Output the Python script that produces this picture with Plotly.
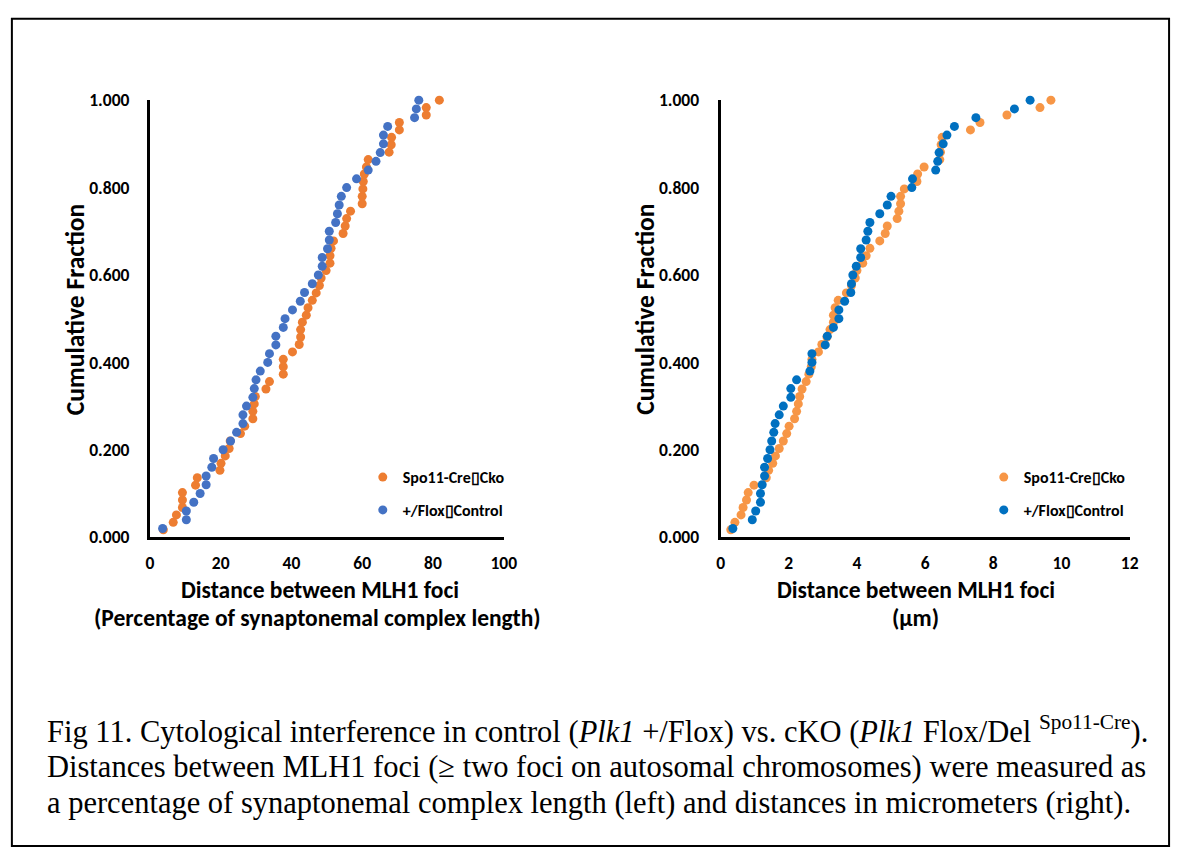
import plotly.graph_objects as go

# ---------------- data ----------------
# Left panel: distance as % of synaptonemal complex length
pct_cko = [3.8, 6.6, 7.5, 9.2, 9.2, 9.2, 12.9, 13.4, 19.8, 20.1, 21.3, 22.4, 22.7, 25.6, 26.8,
           29.1, 29.1, 29.5, 29.8, 32.8, 33.8, 37.7, 37.7, 37.7, 40.3, 42.2, 42.6, 42.6, 43.1,
           44.2, 44.7, 45.9, 47.0, 47.9, 48.4, 49.8, 50.9, 50.9, 51.2, 51.9, 54.6, 55.2, 55.6,
           56.7, 60.0, 60.0, 60.2, 60.3, 60.6, 61.2, 61.7, 67.6, 68.2, 68.3, 70.5, 70.5, 78.1,
           78.1, 81.8]
pct_ctrl = [3.6, 10.3, 10.3, 12.4, 14.2, 15.9, 15.9, 17.5, 18.0, 20.7, 22.8, 24.5, 26.3, 26.3,
            27.3, 29.1, 29.5, 30.0, 31.2, 33.3, 33.8, 35.6, 35.6, 37.7, 38.2, 40.3, 42.5, 43.7,
            45.9, 47.6, 48.7, 48.7, 50.2, 50.7, 50.7, 52.5, 53.0, 53.5, 54.1, 55.6, 58.4, 61.7,
            63.9, 65.1, 66.0, 66.0, 67.2, 74.8, 75.3, 76.0]

# Right panel: distance in micrometers
um_cko = [0.30, 0.42, 0.60, 0.66, 0.76, 0.81, 0.98, 1.34, 1.41, 1.53, 1.61, 1.72, 1.84, 1.94,
          2.01, 2.17, 2.23, 2.28, 2.32, 2.39, 2.51, 2.59, 2.66, 2.68, 2.87, 2.97, 3.12, 3.21,
          3.31, 3.31, 3.36, 3.45, 3.69, 3.84, 3.95, 4.00, 4.17, 4.27, 4.38, 4.67, 4.83, 4.89,
          5.18, 5.23, 5.28, 5.28, 5.39, 5.76, 5.78, 5.97, 6.43, 6.45, 6.47, 6.50, 7.33, 7.61,
          8.40, 9.37, 9.69]
um_ctrl = [0.36, 0.93, 1.03, 1.17, 1.17, 1.22, 1.29, 1.29, 1.38, 1.45, 1.50, 1.56, 1.60, 1.72,
           1.84, 2.06, 2.06, 2.23, 2.62, 2.68, 2.68, 3.07, 3.13, 3.31, 3.47, 3.47, 3.64, 3.82,
           3.84, 3.88, 3.98, 4.11, 4.11, 4.27, 4.32, 4.38, 4.67, 4.89, 5.00, 5.61, 5.63, 6.31,
           6.37, 6.41, 6.53, 6.64, 6.86, 7.49, 8.62, 9.08]

# Cumulative fractions (read from the y positions)
cum_cko = [0.017, 0.034, 0.051, 0.068, 0.085, 0.102, 0.119, 0.136, 0.153, 0.169, 0.186, 0.203,
           0.220, 0.237, 0.254, 0.271, 0.288, 0.305, 0.322, 0.339, 0.356, 0.373, 0.390, 0.407,
           0.424, 0.441, 0.458, 0.475, 0.492, 0.508, 0.525, 0.542, 0.559, 0.576, 0.593, 0.610,
           0.627, 0.644, 0.661, 0.678, 0.695, 0.712, 0.729, 0.746, 0.763, 0.780, 0.797, 0.814,
           0.831, 0.847, 0.864, 0.881, 0.898, 0.915, 0.932, 0.949, 0.966, 0.983, 1.000]
cum_ctrl = [0.02, 0.04, 0.06, 0.08, 0.10, 0.12, 0.14, 0.16, 0.18, 0.20, 0.22, 0.24, 0.26, 0.28,
            0.30, 0.32, 0.34, 0.36, 0.38, 0.40, 0.42, 0.44, 0.46, 0.48, 0.50, 0.52, 0.54, 0.56,
            0.58, 0.60, 0.62, 0.64, 0.66, 0.68, 0.70, 0.72, 0.74, 0.76, 0.78, 0.80, 0.82, 0.84,
            0.86, 0.88, 0.90, 0.92, 0.94, 0.96, 0.98, 1.00]

name_cko = "Spo11-Cre\u25afCko"
name_ctrl = "+/Flox\u25afControl"

# ---------------- figure ----------------
W, H = 1187, 861
SANS = "Carlito, Calibri, Lato, sans-serif"
SERIF = "Liberation Serif, Times New Roman, serif"

def px(x):
    return x / W

def py(y):
    return 1 - y / H

fig = go.Figure()
fig.add_trace(go.Scatter(x=pct_cko, y=cum_cko, mode="markers", name=name_cko,
                         marker=dict(color="#ED7D31", size=9, line=dict(width=0)),
                         xaxis="x", yaxis="y", cliponaxis=False,
                         legend="legend", legendgroup="a"))
fig.add_trace(go.Scatter(x=pct_ctrl, y=cum_ctrl, mode="markers", name=name_ctrl,
                         marker=dict(color="#4472C4", size=9, line=dict(width=0)),
                         xaxis="x", yaxis="y", cliponaxis=False,
                         legend="legend", legendgroup="b"))
fig.add_trace(go.Scatter(x=um_cko, y=cum_cko, mode="markers", name=name_cko,
                         marker=dict(color="#F79646", size=9, line=dict(width=0)),
                         xaxis="x2", yaxis="y2", cliponaxis=False,
                         legend="legend2", legendgroup="c"))
fig.add_trace(go.Scatter(x=um_ctrl, y=cum_ctrl, mode="markers", name=name_ctrl,
                         marker=dict(color="#0070C0", size=9, line=dict(width=0)),
                         xaxis="x2", yaxis="y2", cliponaxis=False,
                         legend="legend2", legendgroup="d"))

ydom = [py(540), py(91.5)]
tickfont = dict(family=SANS, size=17.5, color="black", weight="bold")
axis_common = dict(showgrid=False, zeroline=False, showline=True, linecolor="black",
                   linewidth=3, ticks="", tickfont=tickfont, fixedrange=True)
legfont = dict(family=SANS, size=16, color="black", weight="bold")

fig.update_layout(
    width=W, height=H,
    margin=dict(l=0, r=0, t=0, b=0),
    paper_bgcolor="white", plot_bgcolor="white",
    xaxis=dict(domain=[px(148), px(507)], range=[0, 100], dtick=20, anchor="y",
               ticklabelstandoff=8, **axis_common),
    yaxis=dict(domain=ydom, range=[0, 1], dtick=0.2, tickformat=".3f", anchor="x",
               ticklabelstandoff=14, **axis_common),
    xaxis2=dict(domain=[px(727), px(1142)], range=[0, 12], dtick=2, anchor="y2",
                ticklabelstandoff=8, **axis_common),
    yaxis2=dict(domain=ydom, range=[0, 1], dtick=0.2, tickformat=".3f", anchor="x2",
                ticklabelstandoff=15, **axis_common),
    legend=dict(x=px(364), y=py(461), xanchor="left", yanchor="top",
                bgcolor="rgba(0,0,0,0)", tracegroupgap=9, font=legfont),
    legend2=dict(x=px(994), y=py(461), xanchor="left", yanchor="top",
                 bgcolor="rgba(0,0,0,0)", tracegroupgap=9, font=legfont),
    showlegend=True,
)

annos = []
def title(text, x, y, size=23.5, angle=0):
    annos.append(dict(text="<b>%s</b>" % text, x=px(x), y=py(y), xref="paper", yref="paper",
                      showarrow=False, textangle=angle, xanchor="center", yanchor="middle",
                      font=dict(family=SANS, size=size, color="black")))

title("Cumulative Fraction", 72, 306, 25.5, -90)
title("Cumulative Fraction", 650, 306, 25.5, -90)
title("Distance between MLH1 foci", 321, 594)
title("(Percentage of synaptonemal complex length)", 318, 623)
title("Distance between MLH1 foci", 925, 594)
title("(µm)", 925, 623)

caption = [
    "Fig 11. Cytological interference in control (<i>Plk1</i> +/Flox) vs. cKO (<i>Plk1</i> Flox/Del <sup>Spo11-Cre</sup>).",
    "Distances between MLH1 foci (\u2265 two foci on autosomal chromosomes) were measured as",
    "a percentage of synaptonemal complex length (left) and distances in micrometers (right).",
]
for txt, yy in zip(caption, [737, 776, 813]):
    annos.append(dict(text=txt, x=px(42), y=py(yy), xref="paper", yref="paper",
                      showarrow=False, xanchor="left", yanchor="middle",
                      font=dict(family=SERIF, size=30.5, color="black")))
fig.update_layout(annotations=annos)

fig.add_shape(type="rect", xref="paper", yref="paper",
              x0=px(8), x1=px(1182), y0=py(857), y1=py(8),
              line=dict(color="black", width=2), fillcolor="rgba(0,0,0,0)")

post = ("document.body.style.margin='0';document.body.style.padding='0';"
        "document.body.style.overflow='hidden';"
        "document.documentElement.style.overflow='hidden';")

fig.write_html("out.html", post_script=post, config={"displayModeBar": False})
